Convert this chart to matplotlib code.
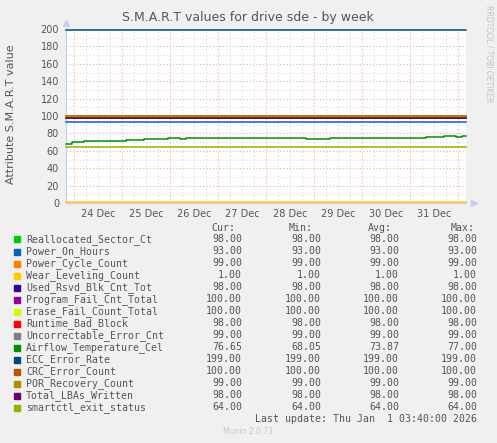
import numpy as np
import matplotlib
matplotlib.use("Agg")
import matplotlib.pyplot as plt
import matplotlib.dates as mdates
from matplotlib.ticker import MultipleLocator, FuncFormatter
from matplotlib.patches import Rectangle
import datetime

W, H = 497, 443

# Legend / series data
names = ["Reallocated_Sector_Ct", "Power_On_Hours", "Power_Cycle_Count",
         "Wear_Leveling_Count", "Used_Rsvd_Blk_Cnt_Tot", "Program_Fail_Cnt_Total",
         "Erase_Fail_Count_Total", "Runtime_Bad_Block", "Uncorrectable_Error_Cnt",
         "Airflow_Temperature_Cel", "ECC_Error_Rate", "CRC_Error_Count",
         "POR_Recovery_Count", "Total_LBAs_Written", "smartctl_exit_status"]
colors = ["#00CC00", "#0066B3", "#FF8000", "#FFCC00", "#330099", "#990099",
          "#CCFF00", "#FF0000", "#808080", "#008F00", "#00487D", "#B35A00",
          "#B38F00", "#6B006B", "#8FB300"]
cur = [98.00, 93.00, 99.00, 1.00, 98.00, 100.00, 100.00, 98.00, 99.00, 76.65,
       199.00, 100.00, 99.00, 98.00, 64.00]
mins = [98.00, 93.00, 99.00, 1.00, 98.00, 100.00, 100.00, 98.00, 99.00, 68.05,
        199.00, 100.00, 99.00, 98.00, 64.00]
avgs = [98.00, 93.00, 99.00, 1.00, 98.00, 100.00, 100.00, 98.00, 99.00, 73.87,
        199.00, 100.00, 99.00, 98.00, 64.00]
maxs = [98.00, 93.00, 99.00, 1.00, 98.00, 100.00, 100.00, 98.00, 99.00, 77.00,
        199.00, 100.00, 99.00, 98.00, 64.00]

# Airflow temperature, one sample every 3 hours from 23 Dec 20:00
temp = [68.1, 69.7, 69.7, 70.8, 70.8, 70.8, 71.0, 71.6, 71.6, 71.6,
        72.8, 72.6, 72.8, 73.5, 73.3, 73.5, 73.6, 74.3, 74.3, 74.1,
        74.3, 74.3, 74.4, 74.3, 74.3, 74.3, 74.2, 74.3, 75.0, 74.8,
        75.2, 74.6, 74.9, 74.5, 74.3, 74.3, 74.3, 74.3, 74.3, 74.2,
        73.4, 73.6, 73.2, 73.3, 74.3, 74.3, 74.3, 74.3, 74.3, 74.3,
        74.3, 74.3, 74.3, 74.3, 74.3, 74.4, 74.8, 74.6, 75.1, 75.2,
        75.5, 75.9, 76.0, 77.0, 76.6, 76.4, 76.65, 76.65]

start = datetime.datetime(2025, 12, 23, 20, 0)
end = datetime.datetime(2026, 1, 1, 4, 0)
times = [start + datetime.timedelta(hours=3 * i) for i in range(len(temp) - 1)] + [end]


def fx(px):
    return px / W


def fy(py):
    return 1 - py / H


fig = plt.figure(figsize=(W / 100, H / 100), dpi=100, facecolor="#F0F0F0")
ax = fig.add_axes([fx(66), fy(203), 400 / W, 174 / H], facecolor="white")

for i, name in enumerate(names):
    if name == "Airflow_Temperature_Cel":
        vals = temp
    else:
        vals = [cur[i]] * len(times)
    ax.plot(times, vals, color=colors[i], lw=1.1, drawstyle="steps-post",
            clip_on=False, zorder=3)

ax.set_xlim(start, end)
ax.set_ylim(0, 200)

# grid
ax.xaxis.set_major_locator(mdates.DayLocator())
ax.xaxis.set_minor_locator(mdates.HourLocator(byhour=[6, 12, 18]))
ax.xaxis.set_major_formatter(FuncFormatter(lambda v, p: ""))


def noon_label(v, p):
    d = mdates.num2date(v)
    return d.strftime("%d %b") if d.hour == 12 else ""


ax.xaxis.set_minor_formatter(FuncFormatter(noon_label))
ax.yaxis.set_major_locator(MultipleLocator(20))
ax.yaxis.set_minor_locator(MultipleLocator(10))

ax.grid(which="major", color="#F0A8A8", lw=0.8, ls=(0, (1, 2)))
ax.grid(which="minor", color="#DADADA", lw=0.8, ls=(0, (1, 2)))
ax.set_axisbelow(True)

ax.tick_params(which="both", length=0, labelsize=7, labelcolor="#555555")
ax.tick_params(axis="x", which="minor", pad=4)
ax.tick_params(axis="y", pad=5)

for s in ["top", "right"]:
    ax.spines[s].set_visible(False)
ax.spines["left"].set_color("#C8CCF0")
ax.spines["bottom"].set_color("#C8CCF0")
ax.plot([0], [1.035], marker="^", color="#C8CCF0", ms=4, transform=ax.transAxes, clip_on=False)
ax.plot([1.02], [0], marker=">", color="#C8CCF0", ms=4, transform=ax.transAxes, clip_on=False)

# texts
fig.text(fx(248), fy(18), "S.M.A.R.T values for drive sde - by week",
         ha="center", va="center", fontsize=9, color="#555555")
fig.text(fx(11), fy(114), "Attribute S.M.A.R.T value", rotation=90,
         ha="center", va="center", fontsize=8, color="#555555")
fig.text(fx(489), fy(5), "RRDTOOL / TOBI OETIKER", rotation=270,
         ha="center", va="top", fontsize=5.5, color="#C4C4C4")

mono = "DejaVu Sans Mono"
fs = 7.1
col_x = [242, 321, 399, 477]
heads = ["Cur:", "Min:", "Avg:", "Max:"]
head_x = [235, 313, 392, 475]
for hx, h in zip(head_x, heads):
    fig.text(fx(hx), fy(228), h, ha="right", va="center", family=mono,
             fontsize=fs, color="#555555")

for i, name in enumerate(names):
    yc = 239.5 + 12 * i
    fig.add_artist(Rectangle((fx(14), fy(yc + 3)), 6 / W, 6 / H,
                             transform=fig.transFigure, color=colors[i]))
    fig.text(fx(26), fy(yc), name, ha="left", va="center", family=mono,
             fontsize=fs, color="#555555")
    for cx, v in zip(col_x, [cur[i], mins[i], avgs[i], maxs[i]]):
        fig.text(fx(cx), fy(yc), "%.2f" % v, ha="right", va="center",
                 family=mono, fontsize=fs, color="#555555")

fig.text(fx(477), fy(419.5), "Last update: Thu Jan  1 03:40:00 2026",
         ha="right", va="center", family=mono, fontsize=fs, color="#555555")
fig.text(fx(248), fy(432), "Munin 2.0.73", ha="center", va="center",
         fontsize=5.5, color="#C8C8C8")

fig.savefig("out.png", dpi=100, facecolor=fig.get_facecolor())
